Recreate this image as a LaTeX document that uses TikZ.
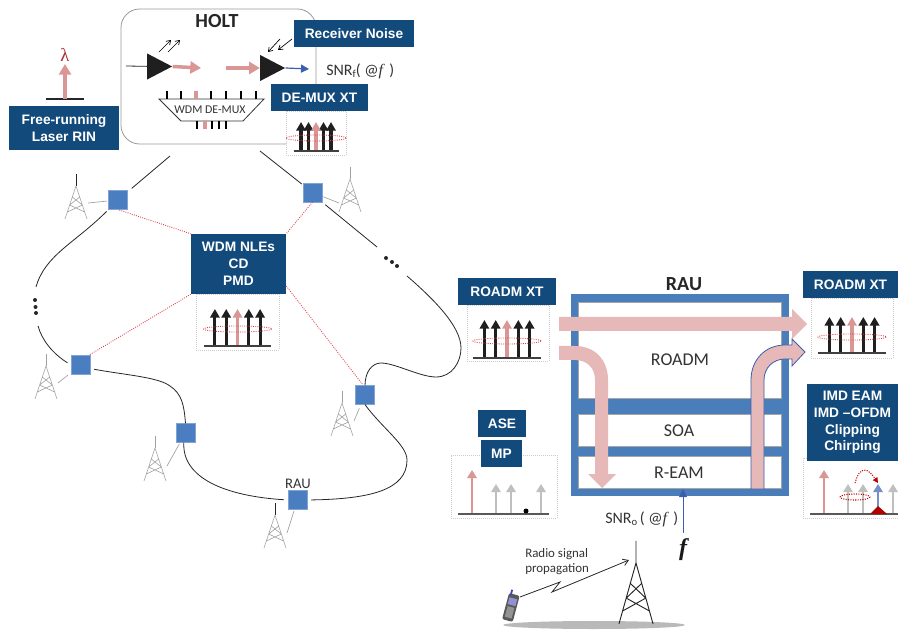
\documentclass[tikz,border=0pt]{standalone}
\usepackage{fontspec}
\setmainfont{Carlito}
\setsansfont{Liberation Sans}
\setmonofont{Liberation Serif}
\usetikzlibrary{arrows.meta,shapes.geometric}
\definecolor{lblblue}{HTML}{134A7C}
\definecolor{raublue}{HTML}{4A7EBB}
\definecolor{nodeblue}{HTML}{4A7EC0}
\definecolor{pinkbig}{HTML}{E6B8B7}
\definecolor{pinkarr}{HTML}{DA9694}
\definecolor{txt}{HTML}{333333}
\definecolor{twr}{HTML}{A0A0A0}
\definecolor{reddot}{HTML}{DC3C48}
\definecolor{arrowblue}{HTML}{3A5FB0}
\tikzset{
 lbl/.style={fill=lblblue,text=white,font=\sffamily\bfseries\fontsize{10.3}{12.6}\selectfont,align=center,inner sep=0pt},
 rnode/.style={fill=nodeblue,draw=nodeblue!70!white,line width=0.4pt,minimum size=14pt,inner sep=0pt},
 specbox/.style={draw=gray!40,densely dotted,line width=0.5pt,fill=white,inner sep=0pt},
 fiber/.style={draw=black!85,line width=0.6pt},
 spur/.style={draw=twr,line width=0.5pt},
 reddash/.style={draw=reddot,densely dotted,line width=0.65pt},
 plain/.style={font=\fontsize{#1}{#1}\selectfont,text=txt,inner sep=0pt},
 thickarrow/.style={line width=2.3pt,-{Triangle[width=7pt,length=6.5pt]}},
 thinarrow/.style={line width=1.3pt,-{Triangle[width=7pt,length=6pt]}},
}
\newcommand{\serifit}[1]{{\ttfamily\itshape #1}}
\newcommand{\fivespec}[7]{% cx top bottom dx halfbase elly rx
 \foreach \i in {-2,-1,1,2}{\draw[thickarrow,black!88] ({#1+\i*#4},#3) -- ({#1+\i*#4},#2);}
 \draw[thickarrow,pinkarr] (#1,#3) -- (#1,#2);
 \draw[reddash] (#1,#6) ellipse [x radius=#7,y radius=3];
 \draw[black!75,line width=0.9pt] ({#1-#5},{#3+1}) -- ({#1+#5},{#3+1});
}
\newcommand{\lowspec}[2]{\draw[thinarrow,#2] (#1,513) -- (#1,484);}
\newcommand{\smalltower}[3]{% x base mastcolor
 \begin{scope}[shift={(#1,#2)}]
 \draw[twr,line width=0.45pt,line join=round] (-11,0) -- (0,-33) -- (11,0)
   (-3.7,-22) -- (6.3,-14) (3.7,-22) -- (-6.3,-14) (-6.3,-14) -- (8.7,-7) (6.3,-14) -- (-8.7,-7);
 \draw[#3,line width=0.55pt] (0,-45) -- (0,-33);
 \end{scope}}
\begin{document}
\begin{tikzpicture}[x=0.75pt,y=-0.75pt]
\useasboundingbox (0,0) rectangle (898,630);
% HOLT frame
\node[draw=gray!80,line width=0.6pt,rounded corners=14pt,fill=white,minimum width=146.25pt,minimum height=101.25pt,inner sep=0pt] (holt) at (218.5,76.5) {};
\node[font=\bfseries\fontsize{15}{15}\selectfont,text=black!85,inner sep=0pt] (holtt) at (217,21) {HOLT};
% amplifiers
\node[draw=none,fill=black!88,isosceles triangle,isosceles triangle apex angle=55,minimum height=18.75pt,minimum width=19.5pt,inner sep=0pt] (amp1) at (155,66.5) {};
\node[draw=none,fill=black!88,isosceles triangle,isosceles triangle apex angle=55,minimum height=18.75pt,minimum width=19.5pt,inner sep=0pt] (amp2) at (268,68) {};
\coordinate (ampin) at (126,66);
\coordinate (p1e) at (201,68);
\coordinate (p2s) at (226,68);
\coordinate (snrIn) at (309,69);
\draw[line width=0.6pt,black!85] (ampin) -- (amp1);
\draw[line width=2.6pt,pinkarr,-{Triangle[width=9pt,length=8pt]}] (amp1.east) -- (p1e);
\draw[line width=2.6pt,pinkarr,-{Triangle[width=9pt,length=8pt]}] (p2s) -- (amp2.west);
\draw[line width=0.9pt,arrowblue,-{Triangle[width=6pt,length=6pt]}] (amp2.east) -- (snrIn);
\draw[-{Straight Barb[length=3pt,width=4pt]},line width=0.5pt] (159,52) -- (171,40);
\draw[-{Straight Barb[length=3pt,width=4pt]},line width=0.5pt] (168,52) -- (180,40);
\draw[-{Straight Barb[length=3pt,width=4pt]},line width=0.5pt] (280,39) -- (268,52);
\draw[-{Straight Barb[length=3pt,width=4pt]},line width=0.5pt] (292,39) -- (278,50);
% demux
\draw[black!80,line width=0.6pt,fill=white] (159,99) -- (264,99) -- (243,121) -- (181,121) -- cycle;
\foreach \x in {167,181,211,226,241,256}{\draw[black,line width=1.6pt] (\x,91) -- (\x,99);}
\draw[pinkarr,line width=2.3pt] (196,91) -- (196,99);
\foreach \x in {197,212,219,226}{\draw[black,line width=1.6pt] (\x,121) -- (\x,129);}
\draw[pinkarr,line width=2.3pt] (205,121) -- (205,129);
\node[plain=8.9] (demuxt) at (210,110) {WDM DE-MUX};
\node[plain=12,anchor=west] (snrf) at (326,71) {SNR\raisebox{-2pt}{\fontsize{8}{8}\selectfont f}( @\serifit{f}\, )};
% laser
\coordinate (laserb) at (65,99);
\coordinate (lasert) at (65,64);
\draw[black!85,line width=1.2pt] (46,99) -- (84,99);
\draw[line width=3pt,pinkarr,-{Triangle[width=9pt,length=8pt]}] (laserb) -- (lasert);
\node[font=\ttfamily\fontsize{14}{14}\selectfont,text=red!60!black!70!pinkarr,inner sep=0pt] (lam) at (65,55) {λ};
\node[lbl,minimum width=82.5pt,minimum height=33pt] (rin) at (64,128) {Free-running\\Laser RIN};
% demux spectrum
\node[specbox,minimum width=45pt,minimum height=33pt] (dspec) at (316,133) {};
\fivespec{316}{122}{150}{7.5}{22.5}{138}{30}
\node[lbl,minimum width=72.75pt,minimum height=20.25pt] (dxt) at (319.5,97.5) {DE-MUX XT};
\node[lbl,minimum width=90pt,minimum height=20.25pt] (rn) at (354,33.5) {Receiver Noise};
% RAU nodes
\node[rnode] (n1) at (118,200) {};
\node[rnode] (n2) at (312.5,192.5) {};
\node[rnode] (n3) at (80.5,365) {};
\node[rnode] (n4) at (185.5,433) {};
\node[rnode] (n5) at (297.5,500) {};
\node[rnode] (n6) at (365,395) {};
% towers
\smalltower{76}{219}{black!85}
\smalltower{350}{212}{twr}
\smalltower{46}{399}{twr}
\smalltower{155}{481}{twr}
\smalltower{275}{548}{black!85}
\smalltower{342}{436}{twr}
\coordinate (s1) at (88,203);\coordinate (s2) at (339,203);\coordinate (s3) at (58,383);
\coordinate (s4) at (167,466);\coordinate (s5) at (287,533);\coordinate (s6) at (354,421);
\draw[spur,shorten >=1pt] (s1) -- (n1);
\draw[spur,shorten >=1pt] (s2) -- (n2);
\draw[spur,shorten >=3pt] (s3) -- (n3);
\draw[spur,shorten >=1pt] (s4) -- (n4);
\draw[spur,shorten >=1pt] (s5) -- (n5);
\draw[spur,shorten >=3pt] (s6) -- (n6);
% fibres
\coordinate (hL) at (170,156);\coordinate (hR) at (260,151);
\coordinate (dotA1) at (36,287);\coordinate (dotA2) at (38,326);
\coordinate (dotB1) at (377,247);\coordinate (dotB2) at (407,276);
\draw[fiber,shorten >=4pt] (hL) -- (n1);
\draw[fiber,shorten >=1pt] (hR) -- (n2);
\draw[fiber,shorten <=2pt] (n1.-135) .. controls (75,243) and (45,255) .. (dotA1);
\draw[fiber,shorten >=3pt] (dotA2) .. controls (42,340) and (52,353) .. (n3.west);
\draw[fiber,shorten <=3pt] (n3.-20) .. controls (125,375) and (158,377) .. (170,386) .. controls (182,394) and (184,405) .. (n4.90);
\draw[fiber,shorten >=3pt] (n4.-100) .. controls (182,478) and (225,496) .. (n5.west);
\draw[fiber,shorten <=3pt] (n5.east) .. controls (370,499) and (407,490) .. (407,460) .. controls (407,445) and (382,428) .. (n6.-90);
\draw[fiber,shorten <=3pt] (n2.-45) -- (dotB1);
\draw[fiber] (dotB2) .. controls (430,296) and (461,325) .. (461,348) .. controls (461,362) and (452,377) .. (436,377) .. controls (420,377) and (395,363) .. (381,363) .. controls (372,363) and (365,372) .. (n6.90);
\foreach \p in {(35,300),(35.5,307),(36,313),(386,258),(392,262),(397,266)}{\fill[black!85] \p circle [radius=2];}
% red dotted
\node[specbox,minimum width=62.25pt,minimum height=42pt] (nspec) at (237.5,322) {};
\fivespec{237.5}{309}{345}{11.3}{33.5}{329}{34}
\node[lbl,minimum width=71.25pt,minimum height=45pt] (nle) at (238.5,264) {WDM NLEs\\CD\\PMD};
\draw[reddash,shorten <=1pt] (n1.-90) -- (nle.north west);
\draw[reddash] (n2.-90) -- (nle.north east);
\draw[reddash,shorten >=1pt] (nle.south west) -- (n3.50);
\draw[reddash,shorten >=1pt] (nle.east |- 0,286) -- (n6.100);
\node[plain=11,anchor=south] (raul) at (298,488.5) {RAU};
% ROADM XT left
\node[specbox,minimum width=61.5pt,minimum height=42pt] (lspec) at (508,333) {};
\fivespec{507}{320}{357}{11.3}{34}{341}{34}
\node[lbl,minimum width=73.5pt,minimum height=20.25pt] (lxt) at (507,291.5) {ROADM XT};
% RAU
\node[font=\bfseries\fontsize{15}{15}\selectfont,text=black!85,inner sep=0pt] (raut) at (684,284) {RAU};
\node[fill=raublue,minimum width=163.5pt,minimum height=151.5pt,inner sep=0pt] (rau) at (680,395) {};
\node[draw=gray!70,fill=white,line width=0.7pt,minimum width=152.25pt,minimum height=72pt,inner sep=0pt] (roadm) at (679.5,350) {};
\node[draw=gray!70,fill=white,line width=0.7pt,minimum width=152.25pt,minimum height=24pt,inner sep=0pt] (soa) at (679.5,430) {};
\node[draw=gray!70,fill=white,line width=0.7pt,minimum width=152.25pt,minimum height=24pt,inner sep=0pt] (ream) at (679.5,472) {};
\node[plain=13.5] at (680,360) {ROADM};
\node[plain=13.5] at (679,430.5) {SOA};
\node[plain=13.5] at (679,473) {R-EAM};
\fill[pinkbig] (559,317) -- (792,317) -- (792,309) -- (807,324) -- (792,339) -- (792,331) -- (559,331) -- cycle;
\fill[pinkbig] (559,346) -- (575,346) .. controls (595,346) and (608,360) .. (608,380) -- (608,474) -- (616,474) -- (602,488) -- (588,474) -- (595,474) -- (595,380) .. controls (595,368) and (587,360) .. (575,360) -- (559,360) -- cycle;
\draw[fill=pinkbig,draw=arrowblue,line width=0.6pt] (751,489) -- (751,380) .. controls (751,360) and (765,345) .. (785,345) -- (792,345) -- (792,339) -- (805,352) -- (792,366) -- (792,359) -- (785,359) .. controls (773,359) and (764,368) .. (764,380) -- (764,489) -- cycle;
% ROADM XT right
\node[specbox,minimum width=61.5pt,minimum height=45pt] (rspec) at (852,328) {};
\fivespec{852}{317}{352}{11.3}{34}{337}{34}
\node[lbl,minimum width=71.25pt,minimum height=20.25pt] (rxt) at (850.5,284.5) {ROADM XT};
% f arrow
\coordinate (fstart) at (683,533);\coordinate (ftip) at (683,489);
\draw[line width=0.7pt,arrowblue,-{Triangle[width=6pt,length=6pt]}] (fstart) -- (ftip);
\node[plain=12,anchor=west] (snro) at (605,519) {SNR\raisebox{-2pt}{\fontsize{8}{8}\selectfont o}\,( @\serifit{f}\, )};
\node[font=\ttfamily\bfseries\itshape\fontsize{18}{18}\selectfont,text=black!90,inner sep=0pt] (fl) at (683,550) {f};
% ASE MP spectrum
\node[specbox,minimum width=79.5pt,minimum height=47.25pt] (aspec) at (504,486.5) {};
\draw[thinarrow,pinkarr,line width=2.2pt] (472,513) -- (472,470);
\lowspec{496}{gray!50}\lowspec{511}{gray!50}\lowspec{541}{gray!50}
\draw[black!65,line width=0.9pt] (458,514) -- (549,514);
\fill[black] (526,511) circle [radius=2.5];
\node[lbl,minimum width=36pt,minimum height=20.25pt] (ase) at (502,423.5) {ASE};
\node[lbl,minimum width=30.75pt,minimum height=20.25pt] (mp) at (501.5,453.5) {MP};
% IMD spectrum
\node[specbox,minimum width=75pt,minimum height=45pt] (ispec) at (853,488) {};
\draw[thinarrow,pinkarr,line width=2.2pt] (824,513) -- (824,470);
\lowspec{848}{gray!50}\lowspec{863}{gray!50}\lowspec{893}{gray!50}
\draw[thinarrow,arrowblue!70!white] (878,513) -- (878,484);
\draw[black!65,line width=0.9pt] (810,514) -- (898,514);
\fill[red!70!black] (870,514) -- (878,506) -- (887,514) -- cycle;
\draw[reddash,draw=red!75!black,line width=0.8pt] (855,497) ellipse [x radius=15,y radius=3];
\draw[reddash,draw=red!75!black,line width=0.8pt,-{Triangle[width=4pt,length=4pt]}] (855,483) .. controls (860,465) and (868,468) .. (878,483);
\node[lbl,minimum width=68.25pt,minimum height=57.75pt] (imd) at (852.5,422.5) {IMD EAM\\IMD –OFDM\\Clipping\\Chirping};
% radio
\node[plain=9.7,align=left,anchor=west] (radio) at (525,561.5) {Radio signal\\[1.5pt]propagation};
\fill[gray!55] (594,625) ellipse [x radius=91,y radius=4];
\begin{scope}[shift={(636,624)},xscale=1.55,yscale=1.85]
 \draw[black!85,line width=0.7pt,line join=round] (-11,0) -- (0,-33) -- (11,0)
   (-3.7,-22) -- (6.3,-14) (3.7,-22) -- (-6.3,-14) (-6.3,-14) -- (8.7,-7) (6.3,-14) -- (-8.7,-7) (0,-45) -- (0,-33);
\end{scope}
\begin{scope}[shift={(511,607)},rotate=-15]
 \fill[gray!70!black,rounded corners=1.5pt] (-5.5,-13) rectangle (5.5,14);
 \fill[blue!45!gray!60] (-4,-9) rectangle (4,-2);
 \fill[gray!85] (-3.5,0) rectangle (3.5,11);
 \fill[blue!50!gray] (-4.2,-17) rectangle (-2.4,-12);
\end{scope}
\coordinate (phone) at (520,597);\coordinate (towerrx) at (629,560);
\draw[line width=0.6pt,black!85,-{Straight Barb[length=4pt,width=5pt]}] (phone) -- (560,582) -- (552,592) -- (towerrx);
\end{tikzpicture}
\end{document}
